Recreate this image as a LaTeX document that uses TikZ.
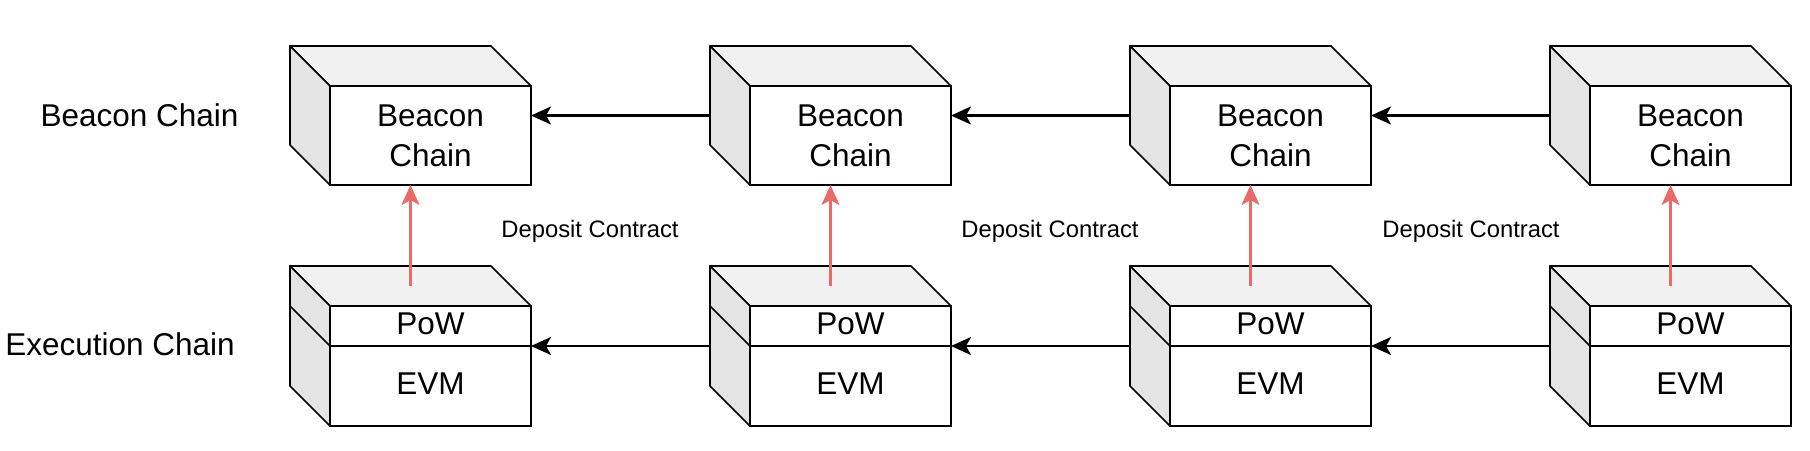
\documentclass[tikz,border=0pt]{standalone}
\usepackage{fontspec}
\setmainfont{Liberation Sans}
\usetikzlibrary{arrows.meta}
\definecolor{topface}{HTML}{F1F1F1}
\definecolor{sideface}{HTML}{E4E4E4}
\definecolor{linkred}{HTML}{EA6B66}
\begin{document}
\begin{tikzpicture}[x=1pt, y=1pt, every node/.style={inner sep=0pt, outer sep=0pt},
  blk/.style={draw, line width=1.7pt, fill=white, minimum width=201pt, align=center,
    font=\fontsize{31.5}{40}\selectfont},
  face/.style={draw, line width=1.7pt, line join=round},
  link/.style={-{Stealth[length=20pt,width=18pt,inset=5pt]}, line width=2.3pt},
  lbl/.style={font=\fontsize{31.5}{40}\selectfont},
  small/.style={anchor=base, font=\fontsize{23.8}{28}\selectfont}]
  \useasboundingbox (0,0) rectangle (1810,-450);
  % row labels
  \node [lbl] (beacon) at (139.5,-115) {Beacon Chain};
  \node [lbl] (exec) at (120,-344) {Execution Chain};
  % blocks
  \foreach \i/\x in {1/430.5,2/850.5,3/1270.5,4/1690.5} {
    \node [blk, minimum height=99pt] (b\i) at (\x,-135.5) {Beacon\\Chain};
    \node [blk, minimum height=40pt, text height=23pt, text depth=7pt] (p\i) at (\x,-326) {PoW};
    \node [blk, minimum height=80pt, text height=23pt, text depth=7pt] (e\i) at (\x,-386) {EVM};
    \draw [face, fill=topface] (b\i.north west) -- ++(-40,40) -- ++(201,0) -- (b\i.north east) -- cycle;
    \draw [face, fill=sideface] (b\i.north west) -- ++(-40,40) -- ++(0,-99) -- (b\i.south west) -- cycle;
    \draw [face, fill=topface] (p\i.north west) -- ++(-40,40) -- ++(201,0) -- (p\i.north east) -- cycle;
    \draw [face, fill=sideface] (p\i.north west) -- ++(-40,40) -- ++(0,-120) -- (e\i.south west) -- cycle;
    \draw [face] (p\i.south west) -- ++(-40,40);
    \draw [link, linkred] ([shift={(-20,20)}]p\i.north) -- ([xshift=-20]b\i.south);
  }
  % chain links
  \foreach \i/\j in {1/2,2/3,3/4} {
    \draw [link] ([shift={(-40,20)}]b\j.west) -- ([yshift=20]b\i.east);
    \draw [link] ([xshift=-40]e\j.north west) -- (e\i.north east);
  }
  \node [small] (d1) at (590,-237) {Deposit Contract};
  \node [small] (d2) at (1050,-237) {Deposit Contract};
  \node [small] (d3) at (1471,-237) {Deposit Contract};
\end{tikzpicture}
\end{document}
